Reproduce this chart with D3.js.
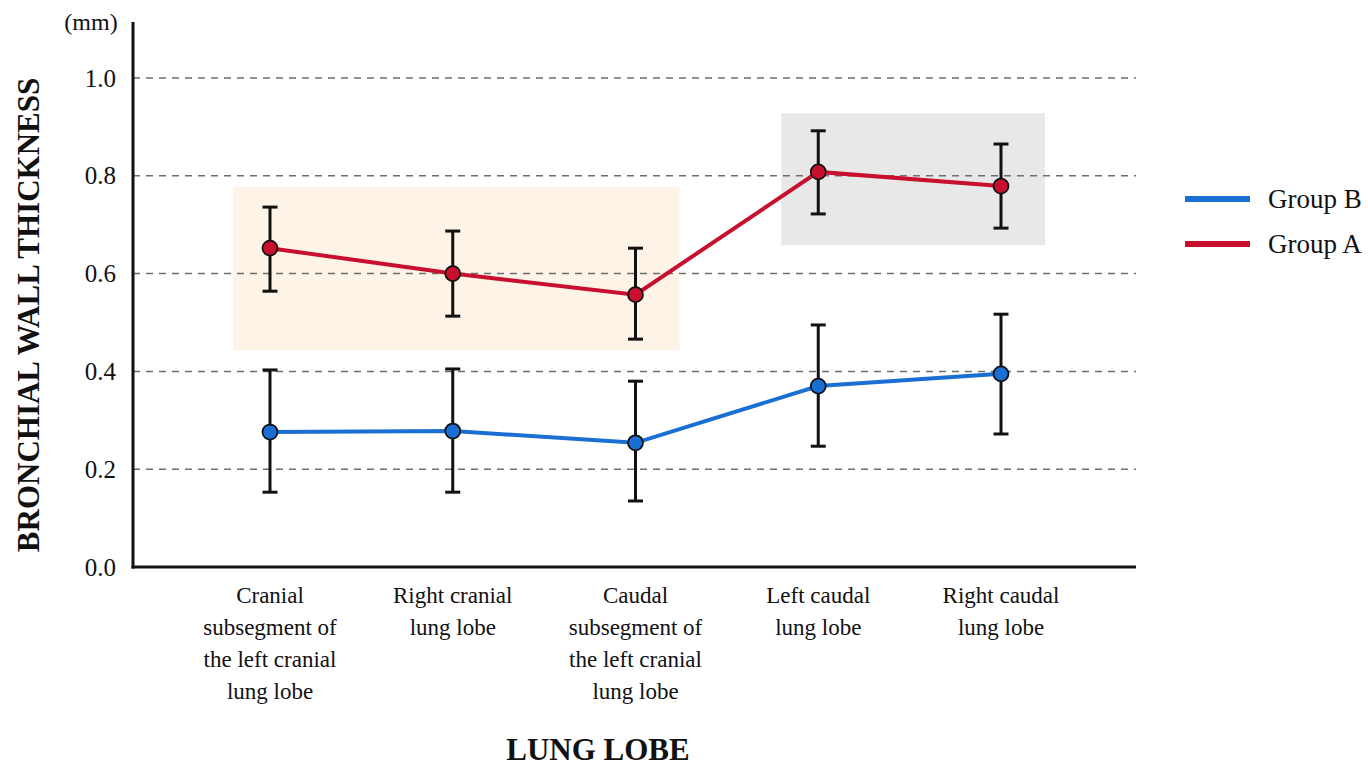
<!DOCTYPE html>
<html>
<head>
<meta charset="utf-8">
<script src="https://cdn.jsdelivr.net/npm/d3@7"></script>
<style>
  body { margin: 0; background: #fff; }
  svg text { font-family: "Liberation Serif", "Times New Roman", serif; fill: #111; }
</style>
</head>
<body>
<div id="chart"></div>
<script>
// data
var lobes = [
  ["Cranial", "subsegment of", "the left cranial", "lung lobe"],
  ["Right cranial", "lung lobe"],
  ["Caudal", "subsegment of", "the left cranial", "lung lobe"],
  ["Left caudal", "lung lobe"],
  ["Right caudal", "lung lobe"]
];
var groupA = [0.652, 0.600, 0.557, 0.808, 0.779];
var groupAHi = [0.736, 0.687, 0.652, 0.892, 0.865];
var groupALo = [0.564, 0.513, 0.466, 0.722, 0.693];
var groupB = [0.276, 0.278, 0.254, 0.370, 0.395];
var groupBHi = [0.403, 0.405, 0.380, 0.495, 0.517];
var groupBLo = [0.153, 0.153, 0.135, 0.247, 0.272];
var yTicks = [0.0, 0.2, 0.4, 0.6, 0.8, 1.0];
// highlighted boxes: from lobe index, to lobe index, y range
var boxes = [
  {from: 0, to: 2, lo: 0.444, hi: 0.777, fill: "#fdf3e7"},
  {from: 3, to: 4, lo: 0.658, hi: 0.928, fill: "#e8e8e8"}
];

var width = 1368, height = 766;
var serif = "Liberation Serif, Times New Roman, serif";
var svg = d3.select("#chart").append("svg")
    .attr("width", width)
    .attr("height", height);

var x = d3.scalePoint()
    .domain(d3.range(lobes.length))
    .range([270, 1001]);
var y = d3.scaleLinear().domain([0, 1]).range([567, 78]);

// shaded boxes
svg.selectAll("rect.box")
    .data(boxes)
  .enter().append("rect")
    .attr("class", "box")
    .attr("x", function(d){ return x(d.from) - 37; })
    .attr("width", function(d){ return x(d.to) - x(d.from) + 81; })
    .attr("y", function(d){ return y(d.hi); })
    .attr("height", function(d){ return y(d.lo) - y(d.hi); })
    .attr("fill", function(d){ return d.fill; });

// grid lines
svg.selectAll("line.grid")
    .data(yTicks.filter(function(t){ return t > 0; }))
  .enter().append("line")
    .attr("class", "grid")
    .attr("x1", 133).attr("x2", 1136)
    .attr("y1", function(d){ return y(d); })
    .attr("y2", function(d){ return y(d); })
    .attr("stroke", "#6e6e6e")
    .attr("stroke-width", 1.5)
    .attr("stroke-dasharray", "7,6");

// axes
var yAxis = svg.append("g")
    .attr("transform", "translate(133,0)")
    .call(d3.axisLeft(y).tickValues(yTicks).tickFormat(d3.format(".1f")).tickSize(0).tickPadding(17));
yAxis.attr("font-family", serif).attr("font-size", 25);
yAxis.select(".domain").remove();
yAxis.selectAll("text")
    .attr("fill", "#111")
    .style("font-family", serif)
    .style("font-size", "25px");

svg.append("line")
    .attr("x1", 133).attr("x2", 133)
    .attr("y1", 22).attr("y2", y(0) + 1.5)
    .attr("stroke", "#111").attr("stroke-width", 3);
svg.append("line")
    .attr("x1", 131.5).attr("x2", 1136)
    .attr("y1", y(0)).attr("y2", y(0))
    .attr("stroke", "#111").attr("stroke-width", 3);

svg.append("text")
    .attr("x", 91).attr("y", 30)
    .attr("text-anchor", "middle")
    .attr("font-size", 24)
    .text("(mm)");

// category labels
var catLabels = svg.selectAll("text.cat")
    .data(lobes)
  .enter().append("text")
    .attr("class", "cat")
    .attr("text-anchor", "middle")
    .attr("font-size", 23)
    .attr("transform", function(d, i){ return "translate(" + x(i) + ",603)"; });
catLabels.selectAll("tspan")
    .data(function(d){ return d; })
  .enter().append("tspan")
    .attr("x", 0)
    .attr("dy", function(d, i){ return i === 0 ? 0 : 32; })
    .text(function(d){ return d; });

// axis titles
svg.append("text")
    .attr("x", 598).attr("y", 760)
    .attr("text-anchor", "middle")
    .attr("font-size", 31)
    .attr("font-weight", "bold")
    .text("LUNG LOBE");
svg.append("text")
    .attr("transform", "translate(39,315) rotate(-90)")
    .attr("text-anchor", "middle")
    .attr("font-size", 31)
    .attr("font-weight", "bold")
    .text("BRONCHIAL WALL THICKNESS");

// series
var series = [
  {name: "Group B", color: "#1a6fd4", mean: groupB, hi: groupBHi, lo: groupBLo},
  {name: "Group A", color: "#c8102e", mean: groupA, hi: groupAHi, lo: groupALo}
];

var line = d3.line()
    .x(function(d, i){ return x(i); })
    .y(function(d){ return y(d); });

series.forEach(function(s){
    var g = svg.append("g");
    g.append("path")
        .attr("d", line(s.mean))
        .attr("fill", "none")
        .attr("stroke", s.color)
        .attr("stroke-width", 4);
    s.mean.forEach(function(m, i){
        g.append("line")
            .attr("x1", x(i)).attr("x2", x(i))
            .attr("y1", y(s.hi[i])).attr("y2", y(s.lo[i]))
            .attr("stroke", "#111").attr("stroke-width", 3);
        [s.hi[i], s.lo[i]].forEach(function(v){
            g.append("line")
                .attr("x1", x(i) - 7.5).attr("x2", x(i) + 7.5)
                .attr("y1", y(v)).attr("y2", y(v))
                .attr("stroke", "#111").attr("stroke-width", 3);
        });
        g.append("circle")
            .attr("cx", x(i)).attr("cy", y(m))
            .attr("r", 7.5)
            .attr("fill", s.color)
            .attr("stroke", "#111")
            .attr("stroke-width", 1.8);
    });
});

// legend
var legend = svg.selectAll("g.legend")
    .data(series)
  .enter().append("g")
    .attr("class", "legend")
    .attr("transform", function(d, i){ return "translate(1185," + (199 + i * 45) + ")"; });
legend.append("line")
    .attr("x1", 0).attr("x2", 65)
    .attr("stroke", function(d){ return d.color; })
    .attr("stroke-width", 6);
legend.append("text")
    .attr("x", 83).attr("y", 9)
    .attr("font-size", 27)
    .text(function(d){ return d.name; });
</script>
</body>
</html>
